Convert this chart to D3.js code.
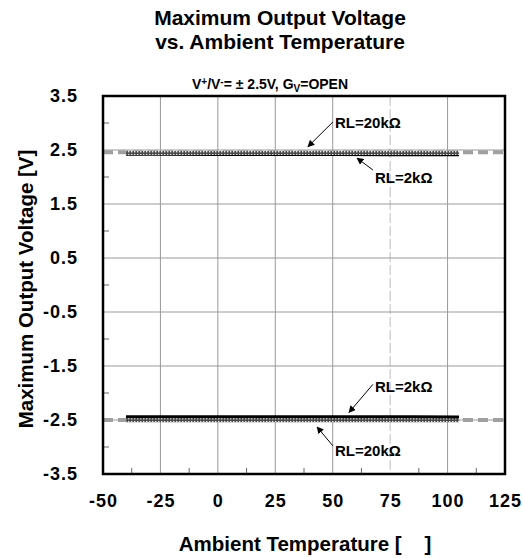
<!DOCTYPE html>
<html>
<head>
<meta charset="utf-8">
<script src="https://cdn.jsdelivr.net/npm/d3@7"></script>
<style>
  body { margin: 0; background: #fff; }
  text { font-family: "Liberation Sans", Arial, sans-serif; font-weight: bold; fill: #000; }
</style>
</head>
<body>
<svg id="chart" width="523" height="558"></svg>
<script>
// data
const temps = [-40, -25, 0, 25, 50, 75, 85, 105];
const vHigh20k = [2.446, 2.446, 2.445, 2.445, 2.444, 2.444, 2.443, 2.443];
const vHigh2k = [2.410, 2.410, 2.409, 2.408, 2.407, 2.405, 2.404, 2.403];
const vLow2k = [-2.440, -2.440, -2.440, -2.441, -2.441, -2.442, -2.442, -2.443];
const vLow20k = [-2.505, -2.505, -2.505, -2.505, -2.505, -2.505, -2.505, -2.505];
const railLevels = [2.46, -2.5];

const xTicks = [-50, -25, 0, 25, 50, 75, 100, 125];
const xMinor = [-37.5, -12.5, 12.5, 37.5, 62.5, 87.5, 112.5];
const yTicks = [3.5, 2.5, 1.5, 0.5, -0.5, -1.5, -2.5, -3.5];
const yMinor = [3, 2, 1, 0, -1, -2, -3];

const annotations = [
  { label: "RL=20kΩ", tx: 51, ty: 2.91, x0: 50.1, y0: 3.02, x1: 39.2, y1: 2.56 },
  { label: "RL=2kΩ", tx: 68.4, ty: 1.89, x0: 67.5, y0: 2.13, x1: 60.6, y1: 2.35 },
  { label: "RL=2kΩ", tx: 68.4, ty: -1.99, x0: 67.5, y0: -1.84, x1: 57.1, y1: -2.36 },
  { label: "RL=20kΩ", tx: 51, ty: -3.17, x0: 50.1, y0: -2.98, x1: 43.2, y1: -2.63 },
];

const margin = { top: 96, right: 18, bottom: 84, left: 103 };
const W = 523, H = 558;
const width = W - margin.left - margin.right;
const height = H - margin.top - margin.bottom;

const svg = d3.select("#chart");
const defs = svg.append("defs");

// stipple pattern for the RL=20k traces
const pat = defs.append("pattern")
  .attr("id", "stipple")
  .attr("patternUnits", "userSpaceOnUse")
  .attr("width", 3).attr("height", 3);
pat.append("rect").attr("width", 3).attr("height", 3).attr("fill", "#4a4a4a");
pat.append("rect").attr("x", 1).attr("y", 1).attr("width", 1.4).attr("height", 1.4).attr("fill", "#e8e8e8");

defs.append("marker")
  .attr("id", "arrow")
  .attr("viewBox", "0 0 10 10")
  .attr("refX", 9).attr("refY", 5)
  .attr("markerWidth", 7).attr("markerHeight", 7)
  .attr("markerUnits", "userSpaceOnUse")
  .attr("orient", "auto")
  .append("path")
  .attr("d", "M0,0 L10,5 L0,10 Z")
  .attr("fill", "#000");

const g = svg.append("g").attr("transform", `translate(${margin.left},${margin.top})`);

const x = d3.scaleLinear().domain([-50, 125]).range([0, width]);
const y = d3.scaleLinear().domain([-3.5, 3.5]).range([height, 0]);

// grid
g.append("g").selectAll("line")
  .data(xTicks.slice(1, -1))
  .join("line")
  .attr("x1", d => x(d)).attr("x2", d => x(d))
  .attr("y1", 0).attr("y2", height)
  .attr("stroke", d => d === 75 ? "#bdbdbd" : "#999")
  .attr("stroke-dasharray", d => d === 75 ? "10,3" : null)
  .attr("stroke-width", 1);

g.append("g").selectAll("line")
  .data(yTicks.slice(1, -1))
  .join("line")
  .attr("x1", 0).attr("x2", width)
  .attr("y1", d => y(d)).attr("y2", d => y(d))
  .attr("stroke", "#999")
  .attr("stroke-width", 1);

// supply rails
g.append("g").selectAll("line")
  .data(railLevels)
  .join("line")
  .attr("x1", 0).attr("x2", width)
  .attr("y1", d => y(d)).attr("y2", d => y(d))
  .attr("stroke", "#a0a0a0")
  .attr("stroke-width", 4)
  .attr("stroke-dasharray", "10,5");

const line = d3.line().x(d => x(d[0])).y(d => y(d[1]));
const pts = vals => temps.map((t, i) => [t, vals[i]]);

g.append("path").datum(pts(vHigh2k)).attr("d", line)
  .attr("fill", "none").attr("stroke", "#000").attr("stroke-width", 2);
g.append("path").datum(pts(vHigh20k)).attr("d", line)
  .attr("fill", "none").attr("stroke", "url(#stipple)").attr("stroke-width", 4);
g.append("path").datum(pts(vLow20k)).attr("d", line)
  .attr("fill", "none").attr("stroke", "url(#stipple)").attr("stroke-width", 4);
g.append("path").datum(pts(vLow2k)).attr("d", line)
  .attr("fill", "none").attr("stroke", "#000").attr("stroke-width", 3);

// minor ticks (inside)
g.append("g").selectAll("line")
  .data(yMinor)
  .join("line")
  .attr("x1", 0).attr("x2", 6)
  .attr("y1", d => y(d)).attr("y2", d => y(d))
  .attr("stroke", "#666");
g.append("g").selectAll("line")
  .data(xMinor)
  .join("line")
  .attr("x1", d => x(d)).attr("x2", d => x(d))
  .attr("y1", height).attr("y2", height - 6)
  .attr("stroke", "#666");

// frame
g.append("rect")
  .attr("width", width).attr("height", height)
  .attr("fill", "none").attr("stroke", "#000").attr("stroke-width", 2.5);

// tick labels
g.append("g").selectAll("text")
  .data(xTicks)
  .join("text")
  .attr("x", d => x(d) + 0.5)
  .attr("y", height + 33)
  .attr("text-anchor", "middle")
  .style("font-size", "18px")
  .style("letter-spacing", "1px")
  .text(d => d);

g.append("g").selectAll("text")
  .data(yTicks)
  .join("text")
  .attr("x", -25)
  .attr("y", d => y(d))
  .attr("dy", "0.36em")
  .attr("text-anchor", "end")
  .style("font-size", "18px")
  .style("letter-spacing", "1px")
  .text(d => d.toFixed(1));

// annotations
const ann = g.append("g");
ann.selectAll("line")
  .data(annotations)
  .join("line")
  .attr("x1", d => x(d.x0)).attr("y1", d => y(d.y0))
  .attr("x2", d => x(d.x1)).attr("y2", d => y(d.y1))
  .attr("stroke", "#000").attr("stroke-width", 1)
  .attr("marker-end", "url(#arrow)");
ann.selectAll("text")
  .data(annotations)
  .join("text")
  .attr("x", d => x(d.tx)).attr("y", d => y(d.ty))
  .style("font-size", "15px")
  .text(d => d.label);

// titles
svg.append("text")
  .attr("x", 280).attr("y", 25)
  .attr("text-anchor", "middle")
  .style("font-size", "21px")
  .text("Maximum Output Voltage");
svg.append("text")
  .attr("x", 280).attr("y", 49)
  .attr("text-anchor", "middle")
  .style("font-size", "21px")
  .text("vs. Ambient Temperature");

const sub = svg.append("text")
  .attr("x", 270).attr("y", 89)
  .attr("text-anchor", "middle")
  .style("font-size", "14px");
sub.append("tspan").text("V");
sub.append("tspan").attr("dy", -4).style("font-size", "10px").text("+");
sub.append("tspan").attr("dy", 4).text("/V");
sub.append("tspan").attr("dy", -4).style("font-size", "10px").text("-");
sub.append("tspan").attr("dy", 4).text("= ± 2.5V, G");
sub.append("tspan").attr("dy", 3).style("font-size", "10px").text("V");
sub.append("tspan").attr("dy", -3).text("=OPEN");

svg.append("text")
  .attr("transform", "translate(33,289) rotate(-90)")
  .attr("text-anchor", "middle")
  .style("font-size", "20.5px")
  .text("Maximum Output Voltage [V]");

svg.append("text")
  .attr("x", 305).attr("y", 551)
  .attr("text-anchor", "middle")
  .style("font-size", "20.5px")
  .style("white-space", "pre")
  .text("Ambient Temperature [    ]");
</script>
</body>
</html>
